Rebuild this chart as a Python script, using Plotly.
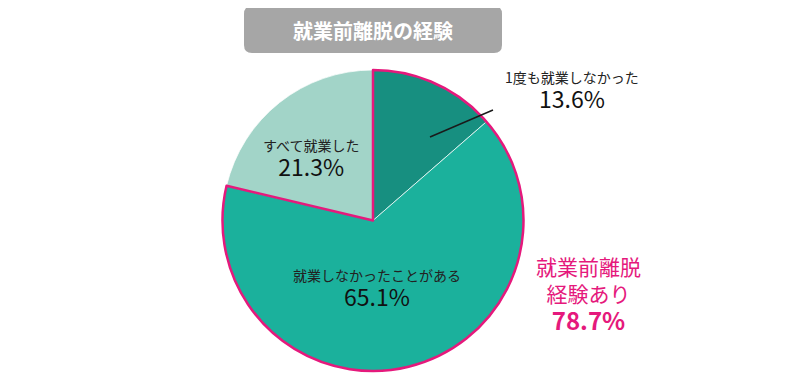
import plotly.graph_objects as go

categories = ["1度も就業しなかった", "就業しなかったことがある", "すべて就業した"]
values = [13.6, 65.1, 21.3]
colors = ["#178F80", "#1BB19C", "#A2D4C8"]
group_labels = ["就業前離脱経験あり", "その他"]
group_values = [78.7, 21.3]
title_text = "就業前離脱の経験"

W, H = 800, 382
OFF = 8  # page body margin
FONT = "Noto Sans CJK JP, Noto Sans, sans-serif"
PINK = "#E5197C"

def px(x):
    return (x - OFF) / W

def py(y):
    return 1 - (y - OFF) / H

dom_x = [px(222), px(524)]
dom_y = [py(371), py(70)]

fig = go.Figure()
fig.add_trace(go.Pie(
    labels=categories, values=values, sort=False, direction="clockwise",
    rotation=0, marker=dict(colors=colors, line=dict(color="rgba(255,255,255,0.7)", width=1)),
    textinfo="none", hoverinfo="label+percent", showlegend=False,
    domain=dict(x=dom_x, y=dom_y),
))
fig.add_trace(go.Pie(
    labels=group_labels, values=group_values, sort=False, direction="clockwise",
    rotation=0,
    marker=dict(colors=["rgba(0,0,0,0)", "rgba(0,0,0,0)"],
                line=dict(color=[PINK, "rgba(0,0,0,0)"], width=[2.5, 0])),
    textinfo="none", hoverinfo="skip", showlegend=False,
    domain=dict(x=dom_x, y=dom_y),
))

# title box (rounded)
x0, x1, y0, y1, r = 244, 502, 6, 53, 8
path = (f"M {px(x0+r)},{py(y0)} L {px(x1-r)},{py(y0)} Q {px(x1)},{py(y0)} {px(x1)},{py(y0+r)} "
        f"L {px(x1)},{py(y1-r)} Q {px(x1)},{py(y1)} {px(x1-r)},{py(y1)} "
        f"L {px(x0+r)},{py(y1)} Q {px(x0)},{py(y1)} {px(x0)},{py(y1-r)} "
        f"L {px(x0)},{py(y0+r)} Q {px(x0)},{py(y0)} {px(x0+r)},{py(y0)} Z")
shapes = [
    dict(type="path", xref="paper", yref="paper", path=path,
         fillcolor="#A6A6A6", line=dict(width=0)),
    dict(type="line", xref="paper", yref="paper", x0=px(430), y0=py(137),
         x1=px(493), y1=py(110), line=dict(color="#1A1A1A", width=1.5)),
]

annotations = [
    dict(x=px(373), y=py(30), text=f"<b>{title_text}</b>",
         font=dict(size=20, color="white", family=FONT)),
]
label_pos = [(572, 91), (377, 289), (311, 159)]
for cat, val, (lx, ly) in zip(categories, values, label_pos):
    txt = (f"<span style='font-size:14px;color:#222222'>{cat}</span><br>"
           f"<span style='font-size:23px'>{val:.1f}%</span>")
    annotations.append(dict(x=px(lx), y=py(ly), text=txt,
                            font=dict(size=19.5, color="#111111", family=FONT)))

annotations.append(dict(
    x=px(588), y=py(294),
    text=("<span style='font-size:21px'>就業前離脱</span><br>"
          "<span style='font-size:21px'>経験あり</span><br>"
          f"<b><span style='font-size:24px'>{group_values[0]:.1f}%</span></b>"),
    font=dict(size=21, color=PINK, family=FONT)))

for a in annotations:
    a.update(xref="paper", yref="paper", showarrow=False, xanchor="center", yanchor="middle")

fig.update_layout(
    width=W, height=H, margin=dict(l=0, r=0, t=0, b=0),
    paper_bgcolor="white", plot_bgcolor="white",
    shapes=shapes, annotations=annotations,
    font=dict(family=FONT),
)
fig.write_html("out.html")
